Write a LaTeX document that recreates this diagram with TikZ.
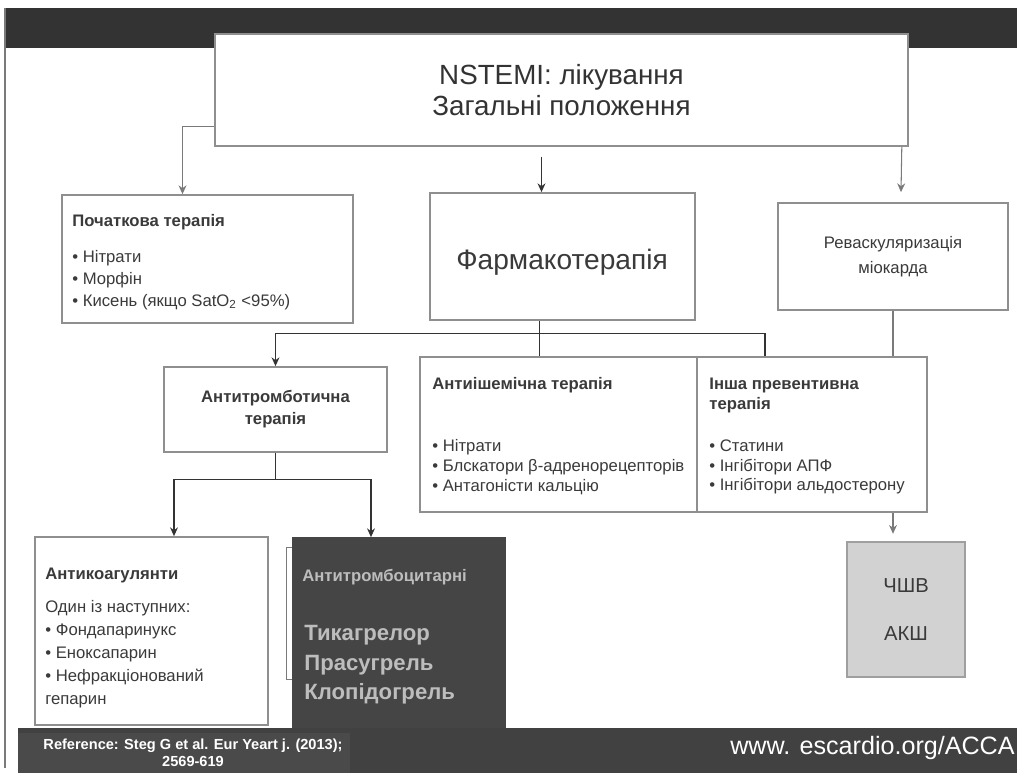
\documentclass[tikz,border=0pt]{standalone}
\usepackage{fontspec}
\setmainfont{Liberation Sans}
\usetikzlibrary{arrows.meta,calc}
\definecolor{band}{HTML}{333333}
\definecolor{foot}{HTML}{414141}
\definecolor{footref}{HTML}{4A4A4A}
\definecolor{edge}{HTML}{8F8F8F}
\definecolor{ink}{HTML}{3A3A3A}
\definecolor{wire}{HTML}{333333}
\definecolor{wirelight}{HTML}{7A7A7A}
\definecolor{plat}{HTML}{454545}
\definecolor{platink}{HTML}{BDBDBD}
\definecolor{cabgfill}{HTML}{D2D2D2}
\newcommand{\fsz}[2]{\fontsize{#1pt}{#2pt}\selectfont}

\begin{document}
\begin{tikzpicture}[x=0.02cm,y=-0.02cm,
  box/.style={draw=edge,fill=white,line width=1pt,inner sep=0pt},
  txt/.style={text=ink,inner sep=0pt,align=left},
  ttl/.style={txt,font=\fsz{9.5}{11.9}\bfseries},
  lst/.style={txt,font=\fsz{9.5}{11.3}},
  wire/.style={draw=wire,line width=0.6pt},
  arr/.style={wire,-{Stealth[length=5pt,width=4.5pt]}},
  grey/.style={draw=wirelight,line width=0.6pt},
  garr/.style={grey,-{Stealth[length=5pt,width=4.5pt]}}
]
\useasboundingbox (0,0) rectangle (1017,773);

% header band and frame
\fill[band] (5,8) rectangle (1017,48);
\draw[wirelight,line width=0.8pt] (5,8) -- (5,768);

% first level
\node[box,minimum width=13.86cm,minimum height=2.24cm] (main) at (561.5,90) {};
\node[txt,align=center,text=band,font=\fsz{15.8}{18.1}] (mainT) at (main.center) {NSTEMI: лікування\\Загальні положення};

\node[box,minimum width=5.82cm,minimum height=2.56cm] (init) at (207.5,259) {};
\node[ttl,anchor=west] (initT) at (72,222) {Початкова терапія};
\node[lst,anchor=west,font=\fsz{9.5}{12.5}] (initL) at (72,280) {• Нітрати\\• Морфін\\• Кисень (якщо SatO\textsubscript{2} <95\%)};

\node[box,minimum width=5.3cm,minimum height=2.54cm] (pharm) at (562.5,256.5) {};
\node[txt,font=\fsz{16}{19}] (pharmT) at (562,262) {Фармакотерапія};

\node[box,minimum width=4.6cm,minimum height=2.14cm] (revasc) at (893,256.5) {};
\node[txt,align=center,font=\fsz{9.5}{14.2}] (revascT) at (revasc.center) {Реваскуляризація\\міокарда};

\node[box,fill=cabgfill,draw=gray!75,line width=1.4pt,minimum width=2.36cm,minimum height=2.7cm] (cabg) at (906,609.5) {};
\node[txt,align=center,font=\fsz{11.5}{27.8}] (cabgT) at (cabg.center) {ЧШВ\\АКШ};

% line to CABG runs behind the boxes
\draw[garr] (revasc.south) -- ($(revasc.south |- cabg.north)+(0,-7)$);

% second level
\node[box,minimum width=4.46cm,minimum height=1.7cm] (antithr) at (275.5,409.5) {};
\node[ttl,align=center,font=\fsz{9.5}{12.5}\bfseries] (antithrT) at (antithr.center) {Антитромботична\\терапія};

\node[box,minimum width=5.54cm,minimum height=3.1cm] (ischem) at (558.5,434.5) {};
\node[ttl,anchor=west] (ischemT) at (432,385) {Антиішемічна терапія};
\node[lst,anchor=west] (ischemL) at (432,467) {• Нітрати\\• Блскатори β-адренорецепторів\\• Антагоністи кальцію};

\node[box,minimum width=4.6cm,minimum height=3.1cm] (other) at (812,434.5) {};
\node[ttl,anchor=west] (otherT) at (709,395.5) {Інша превентивна\\терапія};
\node[lst,anchor=west] (otherL) at (709,467) {• Статини\\• Інгібітори АПФ\\• Інгібітори альдостерону};

% third level
\node[box,minimum width=4.66cm,minimum height=3.76cm] (anticoag) at (151.5,631) {};
\node[ttl,anchor=west] (anticoagT) at (45,575) {Антикоагулянти};
\node[lst,anchor=west,font=\fsz{9.5}{13}] (anticoagL) at (45,654) {Один із наступних:\\• Фондапаринукс\\• Еноксапарин\\• Нефракціонований\\гепарин};

\node[box,fill=plat,draw=plat,minimum width=4.24cm,minimum height=4.04cm] (antiplat) at (399,639) {};
\node[ttl,anchor=west,text=platink] (antiplatT) at (302,577) {Антитромбоцитарні};
\node[ttl,anchor=west,text=platink,font=\fsz{12.6}{16.7}\bfseries] (antiplatL) at (304,665) {Тикагрелор\\Прасугрель\\Клопідогрель};
\draw[grey] ($(antiplat.north west)+(0,10)$) -- ++(-6,0) -- ++(0,132) -- ++(6,0);

% connectors
\draw[garr] ($(main.south west)+(0,-20)$) -| ($(init.north)+(-25,0)$);
\draw[arr] ($(main.south)+(-20,10)$) -- ($(pharm.north)+(-21,0)$);
\draw[garr] ($(main.south east)+(-7,0)$) -- ($(revasc.north)+(8,-10)$);

\coordinate (hub) at ($(pharm.south)+(-23,13)$);
\draw[wire] ($(pharm.south)+(-23,0)$) -- (hub);
\draw[arr] (hub) -| (antithr.north);
\draw[wire] (hub) -- (hub |- ischem.north);
\draw[wire] (hub) -| ($(other.north)+(-47,0)$);

\coordinate (split) at ($(antithr.south)+(0,27)$);
\draw[wire] (antithr.south) -- (split);
\draw[arr] (split) -| ($(anticoag.north)+(22.5,0)$);
\draw[arr] (split) -| ($(antiplat.north)+(-28,0)$);

% footer band
\fill[foot] (18,728) rectangle (1017,773);
\fill[footref] (18,733) rectangle (350,773);
\node[txt,align=center,text=white,font=\fsz{8.3}{9.6}\bfseries] (refT) at (193,753) {Reference: Steg G et al. Eur Yeart j. (2013);\\2569-619};
\node[txt,anchor=east,text=white,font=\fsz{14.3}{16}] (siteT) at (1015,748) {www. escardio.org/ACCA};
\end{tikzpicture}
\end{document}
